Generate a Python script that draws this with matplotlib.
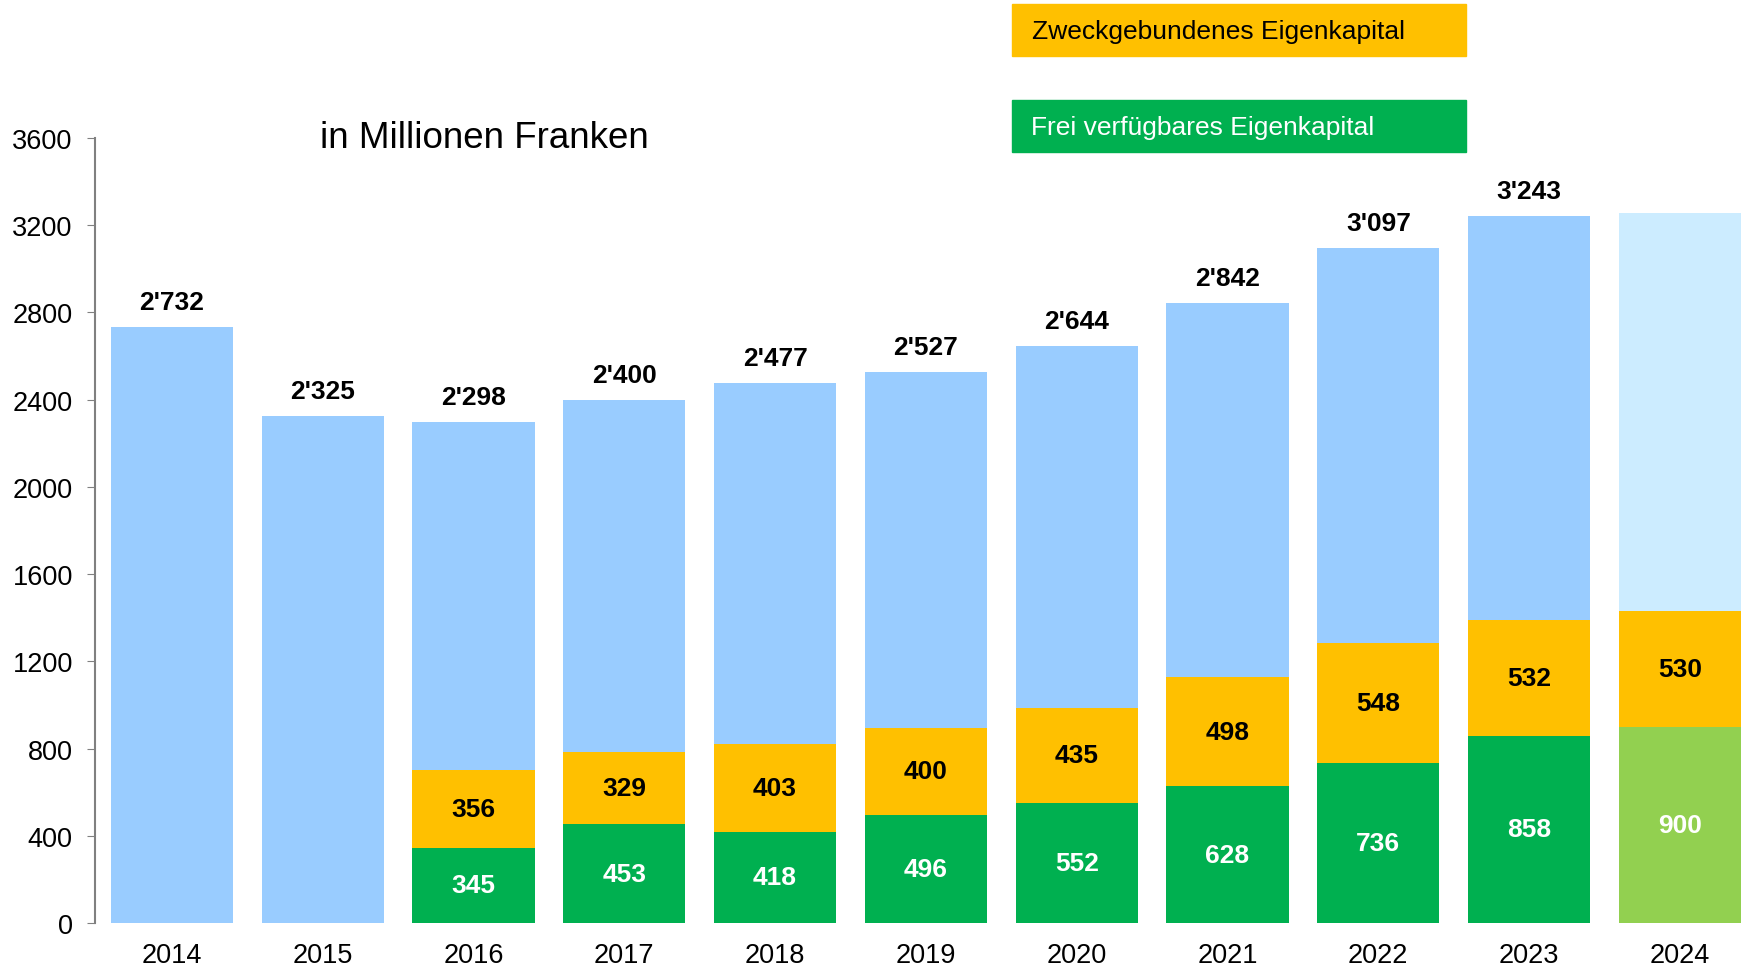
import matplotlib.pyplot as plt
from matplotlib.patches import Rectangle

plt.rcParams['font.family'] = ['Liberation Sans', 'DejaVu Sans']

years = ["2014", "2015", "2016", "2017", "2018", "2019", "2020", "2021", "2022", "2023", "2024"]
total = [2732, 2325, 2298, 2400, 2477, 2527, 2644, 2842, 3097, 3243, 3255]
frei = [0, 0, 345, 453, 418, 496, 552, 628, 736, 858, 900]
zweck = [0, 0, 356, 329, 403, 400, 435, 498, 548, 532, 530]
total_labels = ["2'732", "2'325", "2'298", "2'400", "2'477", "2'527", "2'644", "2'842", "3'097", "3'243", ""]

blue = "#99CCFF"
blue_light = "#CCECFF"
orange = "#FFC000"
green = "#00B050"
green_light = "#92D050"

fig = plt.figure(figsize=(17.5, 9.7), dpi=100)
ax = fig.add_axes([95/1750, 46/970, 1655/1750, 785/970])

x = list(range(len(years)))
rest = [t - f - z for t, f, z in zip(total, frei, zweck)]
bottom_z = frei
bottom_r = [f + z for f, z in zip(frei, zweck)]

c_green = [green] * 10 + [green_light]
c_blue = [blue] * 10 + [blue_light]

ax.bar(x, frei, width=0.81, color=c_green)
ax.bar(x, zweck, width=0.81, bottom=bottom_z, color=orange)
ax.bar(x, rest, width=0.81, bottom=bottom_r, color=c_blue)

for i in x:
    if total_labels[i]:
        ax.annotate(total_labels[i], (i, total[i]), xytext=(0, 18), textcoords="offset points",
                    ha="center", va="center", fontsize=19, fontweight="bold")
    if frei[i]:
        ax.text(i, frei[i] / 2, str(frei[i]), ha="center", va="center",
                fontsize=19, fontweight="bold", color="white")
    if zweck[i]:
        ax.text(i, frei[i] + zweck[i] / 2, str(zweck[i]), ha="center", va="center",
                fontsize=19, fontweight="bold", color="black")

ax.set_xlim(-0.51, 10.465)
ax.set_ylim(0, 3600)
ax.set_yticks(range(0, 3601, 400))
ax.set_xticks(x)
ax.set_xticklabels(years)
ax.tick_params(axis="x", length=0, pad=14, labelsize=19.5)
ax.tick_params(axis="y", length=6, color="#808080", labelsize=19.5, pad=10)
for s in ["top", "right", "bottom"]:
    ax.spines[s].set_visible(False)
ax.spines["left"].set_color("#808080")
ax.spines["left"].set_linewidth(1.5)

fig.text(320/1750, 1 - 139/970, "in Millionen Franken", fontsize=26.5, va="center", ha="left")

# legend boxes
fig.patches.append(Rectangle((1012/1750, 1 - 57/970), 454/1750, 52/970,
                             transform=fig.transFigure, color=orange))
fig.patches.append(Rectangle((1012/1750, 1 - 153/970), 454/1750, 52/970,
                             transform=fig.transFigure, color=green))
fig.text(1032/1750, 1 - 32/970, "Zweckgebundenes Eigenkapital", fontsize=19, va="center", color="black")
fig.text(1031/1750, 1 - 128/970, "Frei verfügbares Eigenkapital", fontsize=19, va="center", color="white")

fig.savefig("out.png", dpi=100)
